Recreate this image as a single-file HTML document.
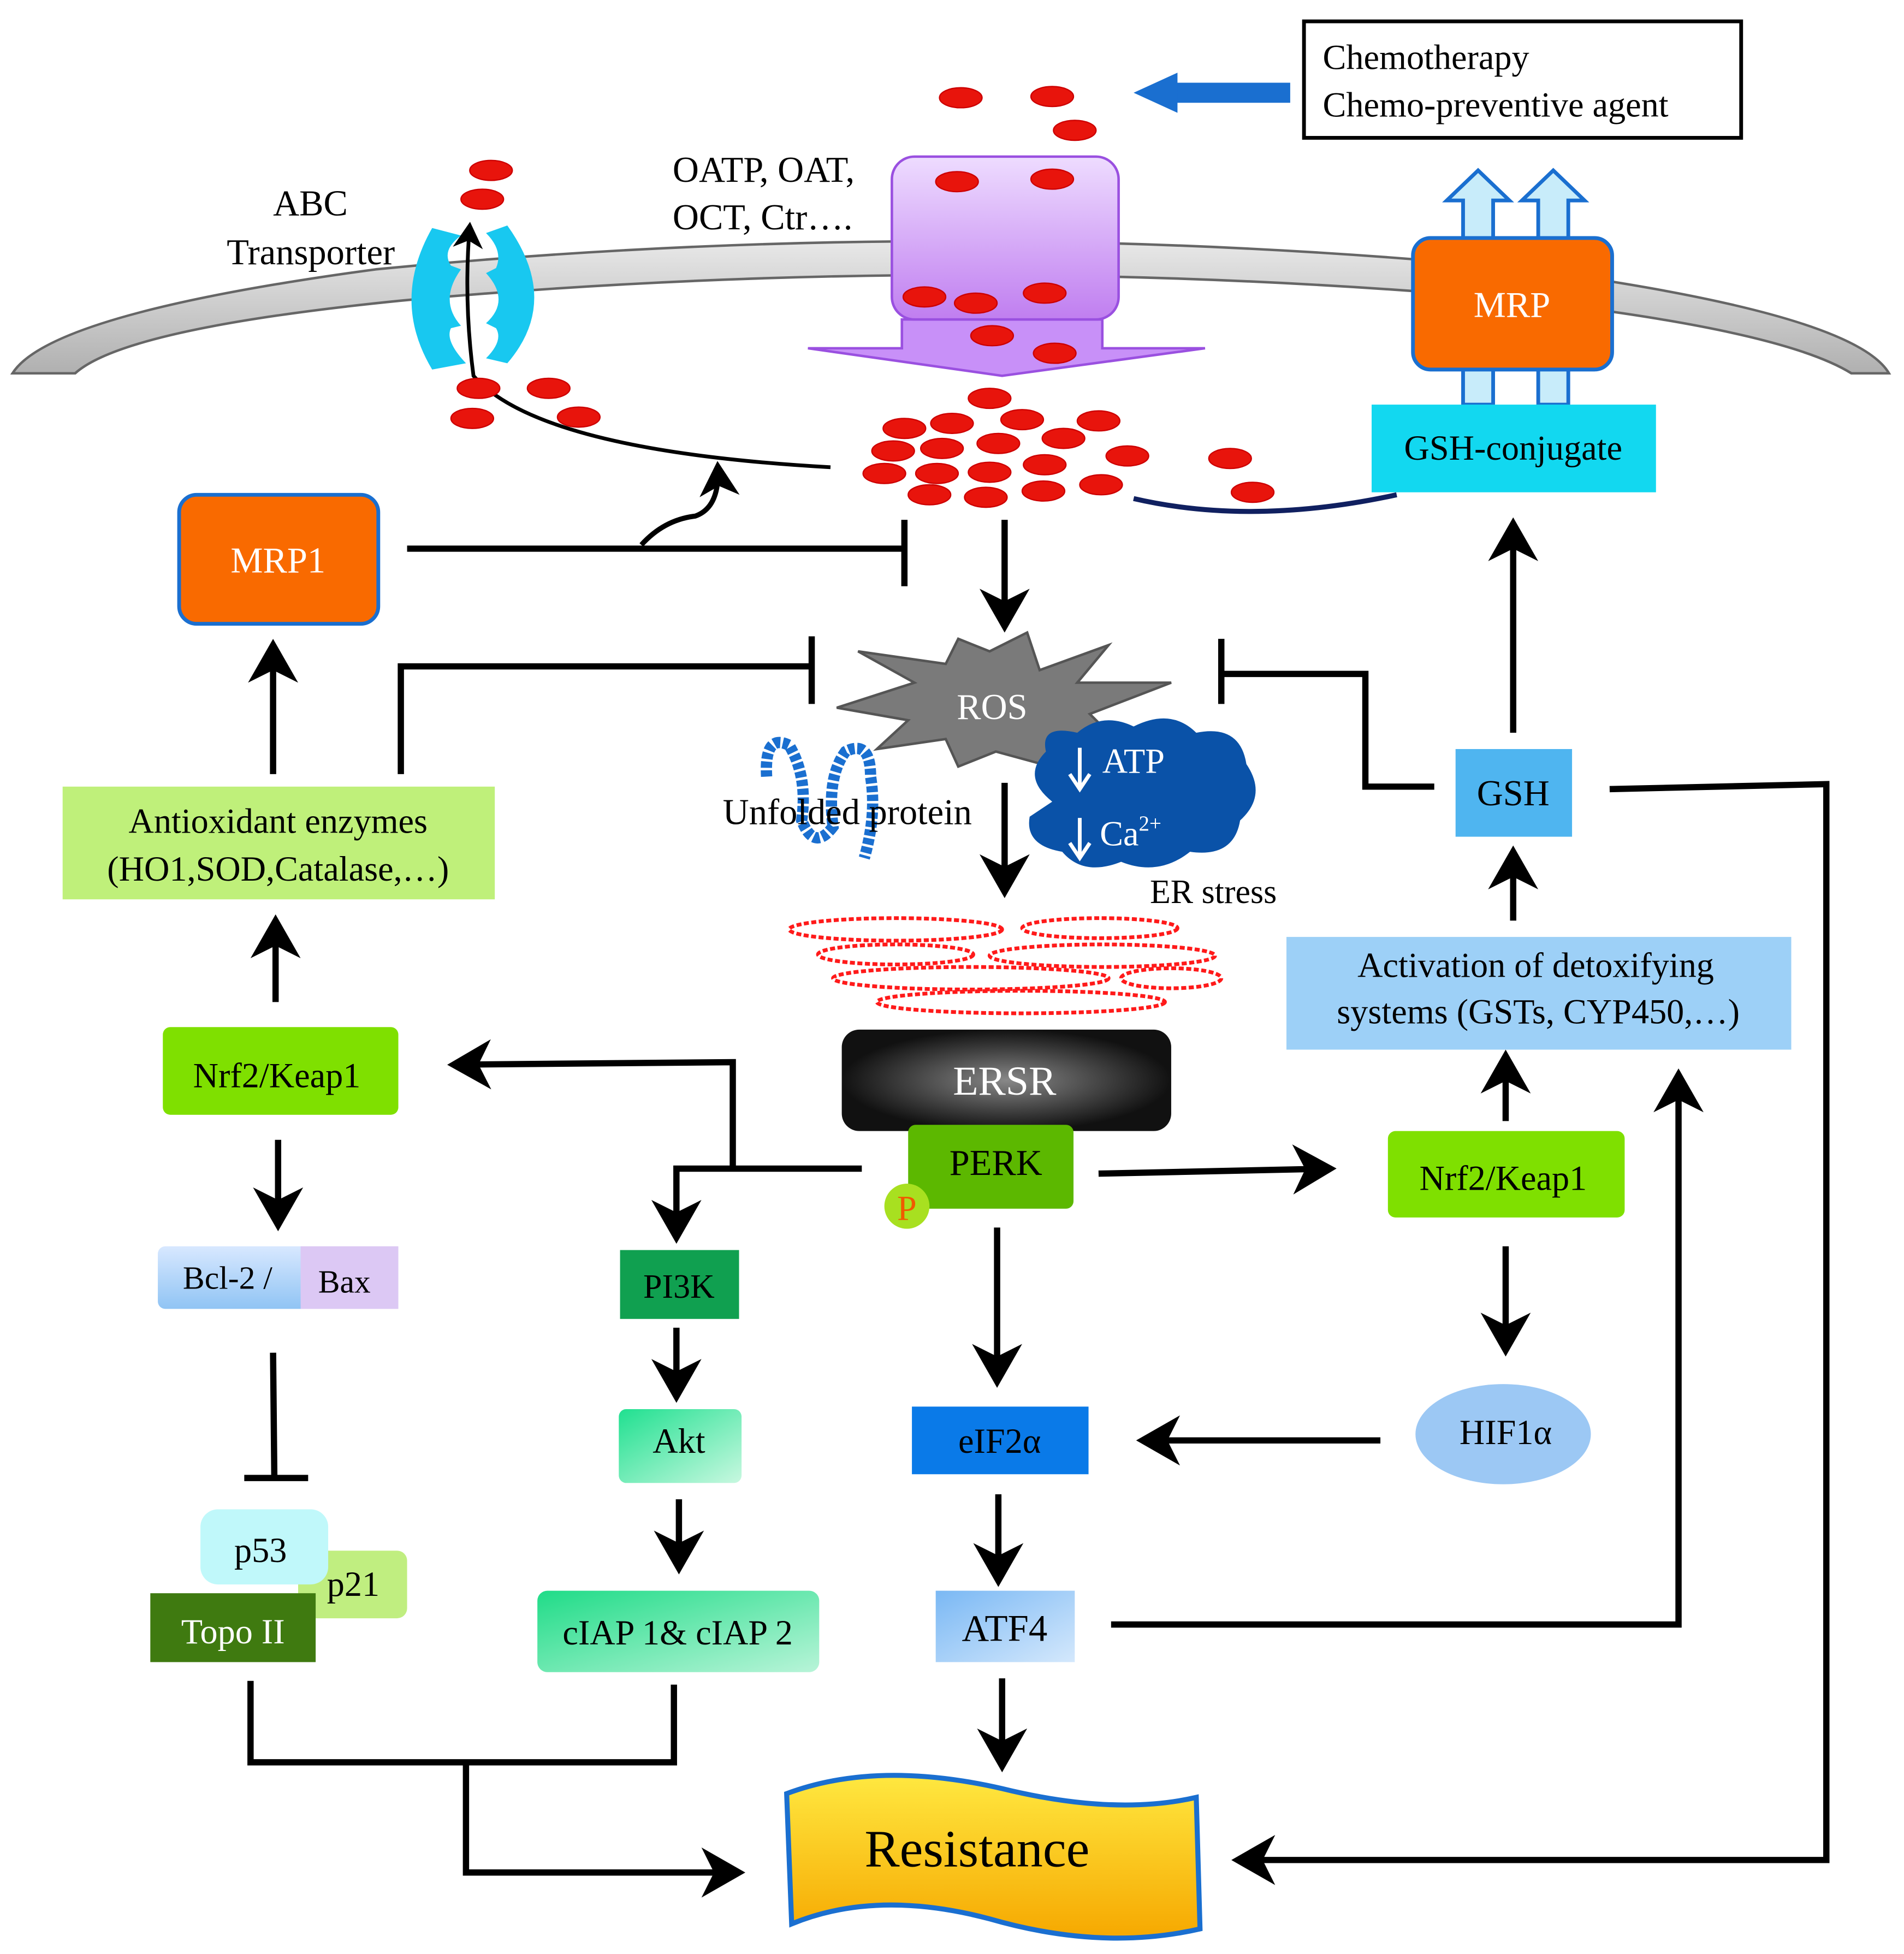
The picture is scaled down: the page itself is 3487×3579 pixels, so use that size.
<!DOCTYPE html>
<html><head><meta charset="utf-8"><style>
html,body{margin:0;padding:0;background:#fff}
svg{display:block}
text{font-family:"Liberation Serif",serif}
</style></head><body>
<svg width="3487" height="3579" viewBox="0 0 1520 1560" xmlns="http://www.w3.org/2000/svg">
<defs>
<marker id="a" markerWidth="8" markerHeight="8" refX="6" refY="4" orient="auto" markerUnits="strokeWidth">
<path d="M0,0 L7,4 L0,8 L2,4 Z" fill="#000"/></marker>
<linearGradient id="mem" x1="0" y1="0" x2="0" y2="1"><stop offset="0" stop-color="#e8e8e8"/><stop offset="1" stop-color="#b0b0b0"/></linearGradient>
<linearGradient id="pur" x1="0" y1="0" x2="0" y2="1"><stop offset="0" stop-color="#eedcff"/><stop offset="1" stop-color="#c07ef0"/></linearGradient>
<radialGradient id="ersr"><stop offset="0" stop-color="#888"/><stop offset="1" stop-color="#111"/></radialGradient>
<linearGradient id="res" x1="0" y1="0" x2="0" y2="1"><stop offset="0" stop-color="#ffe840"/><stop offset="1" stop-color="#f6a800"/></linearGradient>
<linearGradient id="akt" x1="0" y1="0" x2="1" y2="1"><stop offset="0" stop-color="#20e090"/><stop offset="1" stop-color="#c8f8e0"/></linearGradient>
<linearGradient id="ciap" x1="0" y1="0" x2="1" y2="1"><stop offset="0" stop-color="#20dc88"/><stop offset="1" stop-color="#b8f4d8"/></linearGradient>
<linearGradient id="atf" x1="0" y1="0" x2="1" y2="1"><stop offset="0" stop-color="#7ab8f4"/><stop offset="1" stop-color="#d4e8fc"/></linearGradient>
<linearGradient id="bcl" x1="0" y1="0" x2="0" y2="1"><stop offset="0" stop-color="#d8e8ff"/><stop offset="1" stop-color="#90c4f4"/></linearGradient>
</defs>

<path d="M10,298 Q40,250 300,215 Q760,170 1220,215 Q1480,250 1508,298 L1478,298 Q1420,262 1200,238 Q760,200 320,240 Q100,262 60,298 Z" fill="url(#mem)" stroke="#666" stroke-width="2"/>

<rect x="1041" y="17" width="349" height="93" fill="#fff" stroke="#000" stroke-width="3"/>
<text x="1056" y="55" font-size="28">Chemotherapy</text>
<text x="1056" y="93" font-size="28">Chemo-preventive agent</text>
<path d="M1030,74 L935,74" stroke="#1a6fd0" stroke-width="16"/>
<path d="M940,58 L905,74 L940,90 Z" fill="#1a6fd0"/>

<path d="M720,255 L880,255 L880,278 L962,278 L800,300 L645,278 L720,278 Z" fill="#c890f8" stroke="#9a50e0" stroke-width="2"/>
<rect x="712" y="125" width="181" height="130" rx="18" fill="url(#pur)" stroke="#9a50e0" stroke-width="2"/>
<text x="537" y="145" font-size="29">OATP, OAT,</text>
<text x="537" y="183" font-size="29">OCT, Ctr….</text>

<text x="218" y="172" font-size="29">ABC</text>
<text x="181" y="211" font-size="29">Transporter</text>
<path d="M345,182 Q312,240 345,295 L372,290 Q355,272 360,262 L368,260 Q350,240 368,215 L360,212 Q352,200 368,188 Z" fill="#18c8f0"/>
<path d="M405,180 Q448,240 405,290 L388,286 Q402,272 396,262 L388,258 Q408,240 388,218 L396,214 Q402,200 388,186 Z" fill="#18c8f0"/>
<path d="M663,373 Q430,360 378,300 Q370,240 375,180" fill="none" stroke="#000" stroke-width="3" marker-end="url(#a)"/>

<g fill="#e8140c" stroke="#c00" stroke-width="1">
<ellipse cx="767" cy="78" rx="17" ry="8"/><ellipse cx="840" cy="77" rx="17" ry="8"/><ellipse cx="858" cy="104" rx="17" ry="8"/>
<ellipse cx="764" cy="145" rx="17" ry="8"/><ellipse cx="840" cy="143" rx="17" ry="8"/>
<ellipse cx="738" cy="237" rx="17" ry="8"/><ellipse cx="779" cy="242" rx="17" ry="8"/><ellipse cx="834" cy="234" rx="17" ry="8"/>
<ellipse cx="792" cy="268" rx="17" ry="8"/><ellipse cx="842" cy="282" rx="17" ry="8"/>
<ellipse cx="392" cy="136" rx="17" ry="8"/><ellipse cx="385" cy="159" rx="17" ry="8"/>
<ellipse cx="382" cy="310" rx="17" ry="8"/><ellipse cx="438" cy="310" rx="17" ry="8"/><ellipse cx="377" cy="334" rx="17" ry="8"/><ellipse cx="462" cy="333" rx="17" ry="8"/>
<ellipse cx="790" cy="318" rx="17" ry="8"/><ellipse cx="722" cy="342" rx="17" ry="8"/><ellipse cx="760" cy="338" rx="17" ry="8"/><ellipse cx="816" cy="335" rx="17" ry="8"/><ellipse cx="877" cy="336" rx="17" ry="8"/>
<ellipse cx="713" cy="360" rx="17" ry="8"/><ellipse cx="752" cy="358" rx="17" ry="8"/><ellipse cx="797" cy="354" rx="17" ry="8"/><ellipse cx="849" cy="350" rx="17" ry="8"/><ellipse cx="900" cy="364" rx="17" ry="8"/>
<ellipse cx="706" cy="378" rx="17" ry="8"/><ellipse cx="748" cy="378" rx="17" ry="8"/><ellipse cx="790" cy="377" rx="17" ry="8"/><ellipse cx="834" cy="371" rx="17" ry="8"/>
<ellipse cx="742" cy="395" rx="17" ry="8"/><ellipse cx="787" cy="397" rx="17" ry="8"/><ellipse cx="833" cy="392" rx="17" ry="8"/><ellipse cx="879" cy="387" rx="17" ry="8"/>
<ellipse cx="982" cy="366" rx="17" ry="8"/><ellipse cx="1000" cy="393" rx="17" ry="8"/>
</g>
<path d="M905,398 Q1000,420 1115,395" fill="none" stroke="#102060" stroke-width="4"/>

<g fill="#c8ecfa" stroke="#1a6fd0" stroke-width="3">
<path d="M1168,190 L1168,160 L1155,160 L1180,136 L1205,160 L1192,160 L1192,190 Z"/>
<path d="M1228,190 L1228,160 L1215,160 L1240,136 L1265,160 L1252,160 L1252,190 Z"/>
<rect x="1168" y="293" width="24" height="30"/><rect x="1228" y="293" width="24" height="30"/>
</g>
<rect x="1128" y="190" width="159" height="105" rx="14" fill="#f96a00" stroke="#1a6fd0" stroke-width="3"/>
<text x="1207" y="253" font-size="29" fill="#fff" text-anchor="middle">MRP</text>
<rect x="1095" y="323" width="227" height="70" fill="#12d8f0"/>
<text x="1208" y="367" font-size="28" text-anchor="middle">GSH-conjugate</text>

<rect x="143" y="395" width="159" height="103" rx="14" fill="#f96a00" stroke="#1a6fd0" stroke-width="3"/>
<text x="222" y="457" font-size="29" fill="#fff" text-anchor="middle">MRP1</text>
<g stroke="#000" stroke-width="5" fill="none">
<path d="M325,438 L722,438"/><path d="M722,415 L722,468"/>
<path d="M512,435 Q530,415 555,412 Q575,405 573,372" stroke-width="4" marker-end="url(#a)"/>
<path d="M802,415 L802,500" marker-end="url(#a)"/>
</g>

<path d="M790,520 L820,505 L830,535 L885,515 L860,545 L935,545 L870,570 L890,590 L840,595 L850,615 L795,600 L765,612 L755,590 L700,598 L725,575 L668,565 L730,545 L685,520 L755,530 L765,510 Z" fill="#7a7a7a" stroke="#555" stroke-width="2"/>
<text x="792" y="574" font-size="29" fill="#fff" text-anchor="middle">ROS</text>

<path d="M840,640 Q815,620 835,600 Q830,578 860,585 Q880,568 905,580 Q935,565 955,585 Q990,578 995,610 Q1012,635 990,655 Q985,685 950,680 Q925,700 895,688 Q865,700 848,680 Q818,675 822,652 Z" fill="#0a52a8"/>
<text x="880" y="617" font-size="28" fill="#fff">ATP</text>
<text x="878" y="675" font-size="28" fill="#fff">Ca<tspan font-size="17" dy="-12">2+</tspan></text>
<path d="M862,597 L862,628 M854,618 L862,630 L870,618 M862,653 L862,683 M854,673 L862,685 L870,673" stroke="#fff" stroke-width="3" fill="none"/>

<path d="M612,620 Q610,585 630,595 Q645,620 640,655 Q650,680 665,660 Q660,620 675,600 Q695,590 695,620 Q700,650 690,685" fill="none" stroke="#1a6fd0" stroke-width="9" stroke-dasharray="5 2"/>
<text x="577" y="658" font-size="29">Unfolded protein</text>
<text x="918" y="721" font-size="27">ER stress</text>
<path d="M802,625 L802,712" stroke="#000" stroke-width="5" marker-end="url(#a)"/>

<g fill="none" stroke="#ff1a1a" stroke-width="3" stroke-dasharray="4 2">
<ellipse cx="715" cy="742" rx="85" ry="9"/><ellipse cx="878" cy="741" rx="62" ry="8"/>
<ellipse cx="715" cy="762" rx="62" ry="8"/><ellipse cx="880" cy="763" rx="90" ry="9"/>
<ellipse cx="775" cy="781" rx="110" ry="9"/><ellipse cx="935" cy="781" rx="40" ry="8"/>
<ellipse cx="815" cy="800" rx="115" ry="9"/>
</g>

<rect x="672" y="822" width="263" height="81" rx="14" fill="url(#ersr)"/>
<text x="802" y="874" font-size="33" fill="#fff" text-anchor="middle">ERSR</text>
<rect x="725" y="898" width="132" height="67" rx="6" fill="#5cb800"/>
<text x="795" y="938" font-size="29" text-anchor="middle">PERK</text>
<circle cx="724" cy="963" r="18" fill="#a8e020"/>
<text x="724" y="974" font-size="28" fill="#f05a00" text-anchor="middle">P</text>

<g stroke="#000" stroke-width="5" fill="none">
<path d="M688,933 L540,933 L540,988" marker-end="url(#a)"/>
<path d="M585,933 L585,848 L362,850" marker-end="url(#a)"/>
<path d="M877,937 L1062,933" marker-end="url(#a)"/>
<path d="M796,980 L796,1103" marker-end="url(#a)"/>
<path d="M1202,995 L1202,1078" marker-end="url(#a)"/>
<path d="M1102,1150 L912,1150" marker-end="url(#a)"/>
<path d="M797,1193 L797,1262" marker-end="url(#a)"/>
<path d="M887,1297 L1340,1297 L1340,858" marker-end="url(#a)"/>
<path d="M800,1340 L800,1410" marker-end="url(#a)"/>
<path d="M1202,895 L1202,843" marker-end="url(#a)"/>
<path d="M1208,735 L1208,680" marker-end="url(#a)"/>
<path d="M1208,585 L1208,418" marker-end="url(#a)"/>
<path d="M1145,628 L1090,628 L1090,538 L975,538"/><path d="M975,510 L975,562"/>
<path d="M1285,630 L1458,626 L1458,1485 L988,1485" marker-end="url(#a)"/>
<path d="M218,618 L218,515" marker-end="url(#a)"/>
<path d="M320,618 L320,532 L648,532"/><path d="M648,508 L648,562"/>
<path d="M220,800 L220,735" marker-end="url(#a)"/>
<path d="M222,910 L222,978" marker-end="url(#a)"/>
<path d="M218,1080 L219,1180"/><path d="M195,1180 L246,1180"/>
<path d="M540,1060 L540,1115" marker-end="url(#a)"/>
<path d="M542,1197 L542,1252" marker-end="url(#a)"/>
<path d="M200,1342 L200,1407 L538,1407 L538,1345"/>
<path d="M372,1407 L372,1495 L590,1495" marker-end="url(#a)"/>
</g>

<rect x="1108" y="903" width="189" height="69" rx="6" fill="#7fe000"/>
<text x="1200" y="950" font-size="28" text-anchor="middle">Nrf2/Keap1</text>
<ellipse cx="1200" cy="1145" rx="70" ry="40" fill="#9cc8f4"/>
<text x="1202" y="1153" font-size="28" text-anchor="middle">HIF1α</text>
<rect x="728" y="1123" width="141" height="54" fill="#0a7ae8"/>
<text x="798" y="1160" font-size="28" text-anchor="middle">eIF2α</text>
<rect x="747" y="1270" width="111" height="57" fill="url(#atf)"/>
<text x="802" y="1310" font-size="30" text-anchor="middle">ATF4</text>
<rect x="1027" y="748" width="403" height="90" fill="#9dd0f7"/>
<text x="1226" y="780" font-size="28" text-anchor="middle">Activation of detoxifying</text>
<text x="1228" y="817" font-size="28" text-anchor="middle">systems (GSTs, CYP450,…)</text>
<rect x="1162" y="598" width="93" height="70" fill="#4fb5f0"/>
<text x="1208" y="643" font-size="29" text-anchor="middle">GSH</text>

<path d="M628,1432 Q700,1405 800,1428 Q890,1450 955,1435 L958,1540 Q880,1558 790,1532 Q700,1508 632,1536 Z" fill="url(#res)" stroke="#1a6fd0" stroke-width="4"/>
<text x="780" y="1490" font-size="42" text-anchor="middle">Resistance</text>

<rect x="50" y="628" width="345" height="90" fill="#bff07a"/>
<text x="222" y="665" font-size="28" text-anchor="middle">Antioxidant enzymes</text>
<text x="222" y="703" font-size="28" text-anchor="middle">(HO1,SOD,Catalase,…)</text>
<rect x="130" y="820" width="188" height="70" rx="6" fill="#7fe000"/>
<text x="221" y="868" font-size="28" text-anchor="middle">Nrf2/Keap1</text>
<rect x="126" y="995" width="120" height="50" rx="6" fill="url(#bcl)"/>
<rect x="240" y="995" width="78" height="50" fill="#dcc8f4"/>
<text x="146" y="1029" font-size="26">Bcl-2 /</text>
<text x="254" y="1032" font-size="26">Bax</text>
<rect x="495" y="998" width="95" height="55" fill="#10a050"/>
<text x="542" y="1036" font-size="27" text-anchor="middle">PI3K</text>
<rect x="494" y="1125" width="98" height="59" rx="6" fill="url(#akt)"/>
<text x="542" y="1160" font-size="28" text-anchor="middle">Akt</text>
<rect x="429" y="1270" width="225" height="65" rx="8" fill="url(#ciap)"/>
<text x="541" y="1313" font-size="28" text-anchor="middle">cIAP 1&amp; cIAP 2</text>
<rect x="238" y="1238" width="87" height="54" rx="8" fill="#c0ee80"/>
<rect x="160" y="1205" width="102" height="60" rx="14" fill="#c0f8fa"/>
<text x="208" y="1247" font-size="28" text-anchor="middle">p53</text>
<text x="282" y="1274" font-size="28" text-anchor="middle">p21</text>
<rect x="120" y="1272" width="132" height="55" fill="#3f7a10"/>
<text x="186" y="1312" font-size="28" fill="#fff" text-anchor="middle">Topo II</text>
</svg>
</body></html>
